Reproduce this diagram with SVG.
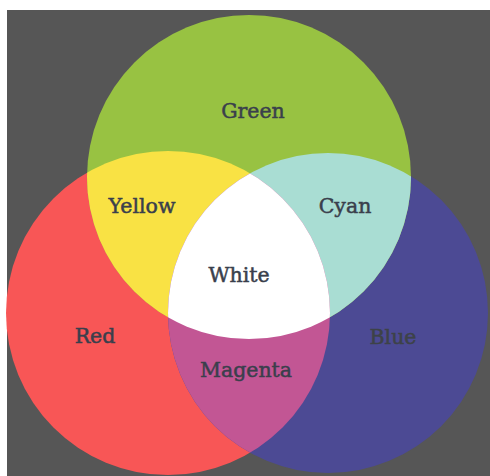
<svg xmlns="http://www.w3.org/2000/svg" width="490" height="476" viewBox="0 0 490 476">
<style>
text{font-family:"DejaVu Serif","Liberation Serif",serif;font-size:20.5px;text-anchor:middle;fill:#3a3f4c;stroke:#3a3f4c;stroke-width:0.5}
</style>
<defs>
<clipPath id="cR"><circle cx="168" cy="313" r="162"/></clipPath>
<clipPath id="cG"><circle cx="249" cy="177" r="162"/></clipPath>
<clipPath id="cB"><circle cx="328" cy="313" r="160"/></clipPath>
</defs>
<rect width="490" height="476" fill="#ffffff"/>
<rect id="background" x="7" y="10" width="483" height="466" fill="#565656"/>
<g id="red"><circle cx="168" cy="313" r="162" fill="#f85656"/></g>
<g id="blue"><circle cx="328" cy="313" r="160" fill="#4c4a94"/></g>
<g id="green"><circle cx="249" cy="177" r="162" fill="#98c242"/></g>
<g id="yellow" clip-path="url(#cR)"><circle cx="249" cy="177" r="162" fill="#f9e244"/></g>
<g id="cyan" clip-path="url(#cB)"><circle cx="249" cy="177" r="162" fill="#a9ddd3"/></g>
<g id="magenta" clip-path="url(#cR)"><circle cx="328" cy="313" r="160" fill="#c25694"/></g>
<g id="white" clip-path="url(#cR)"><g clip-path="url(#cB)"><circle cx="249" cy="177" r="162" fill="#ffffff"/></g></g>
<g id="labels">
<text x="253" y="118">Green</text>
<text x="142" y="213">Yellow</text>
<text x="345" y="213">Cyan</text>
<text x="239" y="282">White</text>
<text x="95" y="343">Red</text>
<text x="393" y="344" style="fill:#3d4248;stroke:#3d4248">Blue</text>
<text x="246" y="377">Magenta</text>
</g>
</svg>
